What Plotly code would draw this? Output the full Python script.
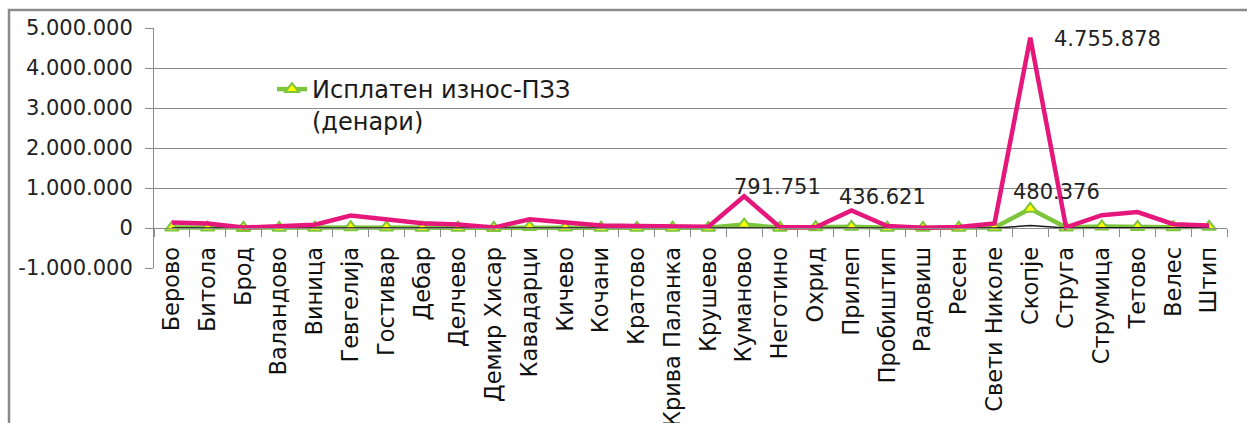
import plotly.graph_objects as go

# Municipalities (category axis)
municipalities = [
    "Берово", "Битола", "Брод", "Валандово", "Виница", "Гевгелија", "Гостивар",
    "Дебар", "Делчево", "Демир Хисар", "Кавадарци", "Кичево", "Кочани", "Кратово",
    "Крива Паланка", "Крушево", "Куманово", "Неготино", "Охрид", "Прилеп",
    "Пробиштип", "Радовиш", "Ресен", "Свети Николе", "Скопје", "Струга",
    "Струмица", "Тетово", "Велес", "Штип",
]

# Total amount per municipality (denars)
total_amount = [
    140000, 115000, 10000, 40000, 80000, 310000, 215000,
    120000, 85000, 10000, 220000, 130000, 60000, 50000,
    40000, 30000, 791751, 20000, 20000, 436621,
    50000, 5000, 25000, 115000, 4755878, 15000,
    320000, 400000, 95000, 65000,
]

# Paid amount - ПЗЗ (denars)
paid_pzz = [
    10000, 12000, 3000, 5000, 8000, 20000, 15000,
    8000, 7000, 3000, 25000, 10000, 8000, 5000,
    6000, 4000, 85000, 8000, 20000, 30000,
    8000, 5000, 6000, 10000, 480376, 10000,
    40000, 25000, 20000, 30000,
]

# Third series, close to zero throughout
other_amount = [
    3000, 3000, 1000, 2000, 2000, 4000, 3000,
    2000, 2000, 1000, 4000, 2000, 2000, 1000,
    2000, 1000, 8000, 2000, 3000, 5000,
    2000, 1000, 1000, 2000, 60000, 2000,
    4000, 4000, 3000, 4000,
]

y_tick_values = [-1000000, 0, 1000000, 2000000, 3000000, 4000000, 5000000]
y_tick_labels = ["-1.000.000", "0", "1.000.000", "2.000.000", "3.000.000", "4.000.000", "5.000.000"]

# Labelled points: (municipality, series values, text, x shift, y shift)
labelled = [
    ("Куманово", total_amount, "791.751", -12, 9),
    ("Прилеп", total_amount, "436.621", -14, 14),
    ("Скопје", paid_pzz, "480.376", -19, 17),
    ("Скопје", total_amount, "4.755.878", 22, -1),
]

FONT = "DejaVu Sans"
GRID = "#8c8c8c"
PINK = "#E5177B"
GREEN = "#7DC53C"

fig = go.Figure()

fig.add_trace(go.Scatter(
    x=municipalities, y=paid_pzz, mode="lines+markers",
    name="Исплатен износ-ПЗЗ<br>(денари)",
    line=dict(color=GREEN, width=4.5),
    marker=dict(symbol="triangle-up", size=12, color="#FFFF00",
                line=dict(color=GREEN, width=2)),
))

fig.add_trace(go.Scatter(
    x=municipalities, y=other_amount, mode="lines",
    line=dict(color="#1a1a1a", width=1.5), showlegend=False,
))

fig.add_trace(go.Scatter(
    x=municipalities, y=total_amount, mode="lines",
    line=dict(color=PINK, width=4.5), showlegend=False,
))

for name, series, text, dx, dy in labelled:
    idx = municipalities.index(name)
    fig.add_annotation(
        x=name, y=series[idx], text=text, showarrow=False,
        xanchor="left", yanchor="middle", xshift=dx, yshift=dy,
        font=dict(family=FONT, size=21, color="#222222"),
    )

W, H = 1247, 423
ML, MR, MT, MB = 154, 20, 28, 155
pw = W - ML - MR
ph = H - MT - MB

# Outer chart frame (extends past the right and bottom edges of the page)
fig.add_shape(
    type="rect", xref="paper", yref="paper",
    x0=(9 - ML) / pw, x1=(W + 15 - ML) / pw,
    y0=(H - MB - (H + 30)) / ph, y1=(H - MB - 10) / ph,
    line=dict(color="#8a8a8a", width=2.5), fillcolor="rgba(0,0,0,0)",
    layer="below",
)

fig.update_layout(
    width=W, height=H,
    margin=dict(l=ML, r=MR, t=MT, b=MB, autoexpand=False),
    paper_bgcolor="white", plot_bgcolor="white",
    font=dict(family=FONT, color="#222222"),
    showlegend=True,
    legend=dict(
        x=(272 - ML) / pw, y=(H - MB - 67) / ph, xanchor="left", yanchor="top",
        bgcolor="rgba(0,0,0,0)", font=dict(family=FONT, size=24, color="#1a1a1a"),
        valign="top",
    ),
    xaxis=dict(
        type="category", anchor="free", position=1 / 6, automargin=False,
        range=[-0.5, len(municipalities) - 0.5],
        tickangle=-90, tickson="boundaries", ticks="outside", ticklen=8,
        tickcolor=GRID, showline=True, linecolor=GRID, linewidth=1,
        showgrid=False, tickfont=dict(family=FONT, size=22.5, color="#111111"),
        ticklabelstandoff=9,
    ),
    yaxis=dict(
        range=[-1000000, 5000000], tickvals=y_tick_values, ticktext=y_tick_labels,
        automargin=False,
        showline=True, linecolor=GRID, linewidth=1, ticks="outside", ticklen=8,
        tickcolor=GRID, showgrid=True, gridcolor=GRID, gridwidth=1,
        zeroline=False, tickfont=dict(family=FONT, size=21, color="#222222"),
        ticklabelstandoff=8,
    ),
)

fig.write_html("out.html")
